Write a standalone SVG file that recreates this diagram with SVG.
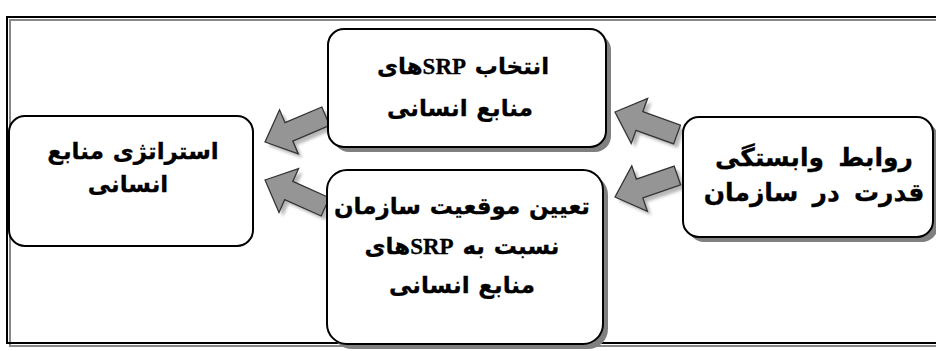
<svg xmlns="http://www.w3.org/2000/svg" width="936" height="351" viewBox="0 0 936 351">
<defs>
<style>
.box{fill:#fff;stroke:#000;stroke-width:2}
.shd{fill:#808080}
.t{font-family:'Liberation Serif','DejaVu Sans',serif;font-weight:bold;fill:#000;stroke:#000;stroke-width:0.3;text-anchor:middle;direction:rtl;word-spacing:3px}
.arr{fill:#959595;stroke:#333;stroke-width:1.3;stroke-linejoin:miter}
.arrs{fill:#b8b8b8;filter:url(#blur)}
</style>
<filter id="blur" x="-20%" y="-20%" width="140%" height="140%"><feGaussianBlur stdDeviation="1.5"/></filter>
<path id="ar" d="M0,0 L26,-24 L26,-10 L66,-10 L66,10 L26,10 L26,24 Z"/>
</defs>
<rect width="936" height="351" fill="#fff"/>
<g id="frame">
<rect x="10" y="20" width="940" height="326" fill="none" stroke="#888" stroke-width="2"/>
<rect x="7" y="17" width="940" height="326" fill="none" stroke="#000" stroke-width="2"/>
</g>
<g id="connectors">
<use href="#ar" class="arrs" transform="translate(619,116) rotate(20)"/>
<use href="#ar" class="arr" transform="translate(615,112) rotate(20)"/>
<use href="#ar" class="arrs" transform="translate(619,201) rotate(-19)"/>
<use href="#ar" class="arr" transform="translate(615,197) rotate(-19)"/>
<use href="#ar" class="arrs" transform="translate(269,146) rotate(-23)"/>
<use href="#ar" class="arr" transform="translate(265,142) rotate(-23)"/>
<use href="#ar" class="arrs" transform="translate(269,184) rotate(24)"/>
<use href="#ar" class="arr" transform="translate(265,180) rotate(24)"/>
</g>
<g id="n-strategy">
<rect class="box" x="9" y="116" width="244" height="130" rx="16"/>
<text class="t" font-size="23" x="133" y="159">استراتژی منابع</text>
<text class="t" font-size="23" x="128" y="192">انسانی</text>
</g>
<g id="n-select">
<rect class="shd" x="333" y="34" width="278" height="118" rx="16"/>
<rect class="box" x="328" y="29" width="278" height="118" rx="16"/>
<text class="t" font-size="23" x="463" y="74">انتخاب SRPهای</text>
<text class="t" font-size="23" x="460" y="116">منابع انسانی</text>
</g>
<g id="n-position">
<rect class="shd" x="332" y="175" width="276" height="174" rx="20"/>
<rect class="box" x="327" y="170" width="276" height="174" rx="20"/>
<text class="t" font-size="23" x="462" y="214">تعیین موقعیت سازمان</text>
<text class="t" font-size="23" x="462" y="254">نسبت به SRPهای</text>
<text class="t" font-size="23" x="462" y="293">منابع انسانی</text>
</g>
<g id="n-power">
<rect class="shd" x="688" y="122" width="250" height="120" rx="16"/>
<rect class="box" x="683" y="117" width="250" height="120" rx="16"/>
<text class="t" font-size="25" x="814" y="166" style="word-spacing:8px">روابط وابستگی</text>
<text class="t" font-size="25" x="814" y="201" style="word-spacing:8px">قدرت در سازمان</text>
</g>
</svg>
